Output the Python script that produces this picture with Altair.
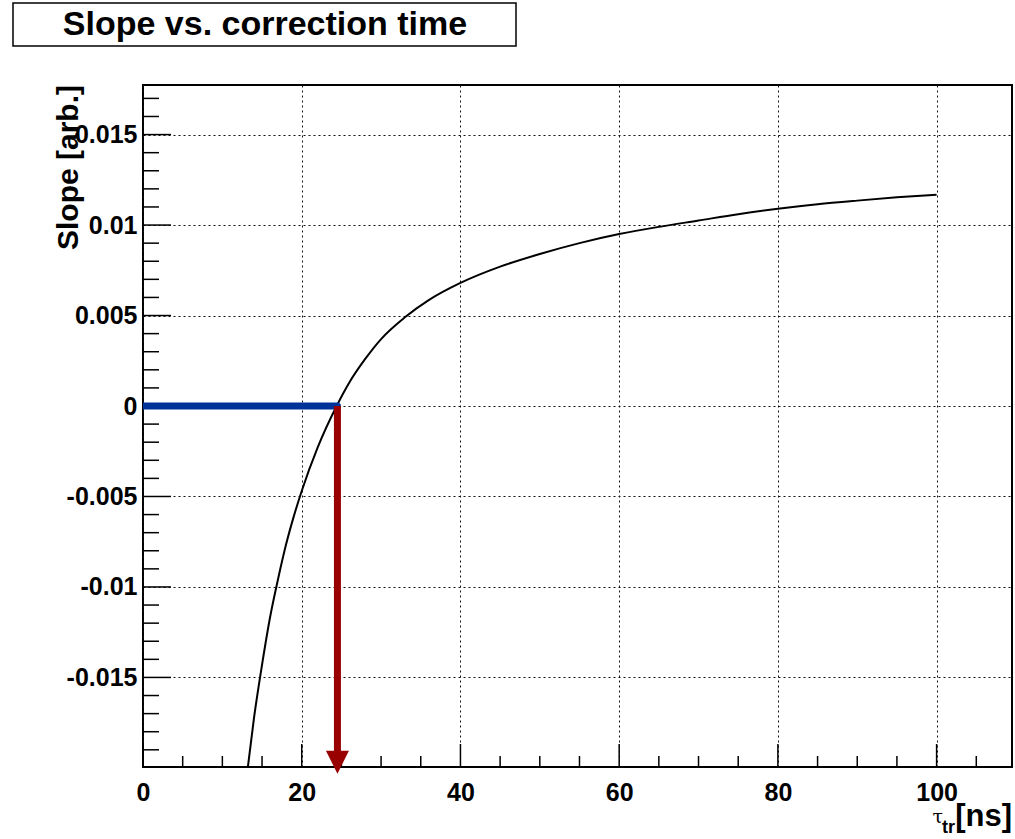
import altair as alt
import pandas as pd

# Slope of the corrected signal as a function of the correction time tau_tr
tau = [13.2, 14.0, 15.0, 16.0, 17.0, 18.0, 19.0, 20.0, 22.0, 24.4, 26.0, 28.0,
       30.0, 33.0, 36.0, 40.0, 45.0, 50.0, 55.0, 60.0, 65.0, 70.0, 75.0, 80.0,
       85.0, 90.0, 95.0, 100.0]
slope = [-0.0200, -0.0172, -0.0143, -0.0117, -0.0096, -0.0077, -0.0061, -0.0047,
         -0.0023, 0.0000, 0.0013, 0.0026, 0.0037, 0.0049, 0.00585, 0.0068, 0.0077,
         0.0084, 0.0090, 0.0095, 0.0099, 0.01025, 0.0106, 0.0109, 0.01115, 0.01135,
         0.01153, 0.01168]

# Zero crossing: horizontal marker along slope = 0 and arrow down to the time axis
zero_tau = [0.0, 24.5]
zero_slope = [0.0, 0.0]
arrow_tau = [24.5]
arrow_top = [0.0]
arrow_shaft_end = [-0.0191]
arrow_head = [-0.01969]

# Axis ticks
x_major = [0, 20, 40, 60, 80, 100]
x_minor = [5, 10, 15, 25, 30, 35, 45, 50, 55, 65, 70, 75, 85, 90, 95, 105]
y_major = [-0.015, -0.01, -0.005, 0.0, 0.005, 0.01, 0.015]
y_minor = [-0.019, -0.018, -0.017, -0.016, -0.014, -0.013, -0.012, -0.011,
           -0.009, -0.008, -0.007, -0.006, -0.004, -0.003, -0.002, -0.001,
           0.001, 0.002, 0.003, 0.004, 0.006, 0.007, 0.008, 0.009,
           0.011, 0.012, 0.013, 0.014, 0.016, 0.017]

x_domain = [0, 109.5]
y_domain = [-0.01995, 0.01774]

W, H = 869, 682          # plot frame size
L, T = 143, 85           # frame offset inside the page
FONT = "Liberation Sans"

xs = alt.Scale(domain=x_domain, nice=False, zero=False)
ys = alt.Scale(domain=y_domain, nice=False, zero=False)

curve_df = pd.DataFrame({"tau": tau, "slope": slope})
zero_df = pd.DataFrame({"tau": zero_tau, "slope": zero_slope})
arrow_df = pd.DataFrame({"tau": arrow_tau, "top": arrow_top,
                         "end": arrow_shaft_end, "head": arrow_head})
xmaj_df = pd.DataFrame({"tau": x_major})
xmin_df = pd.DataFrame({"tau": x_minor})
ymaj_df = pd.DataFrame({"slope": y_major})
ymin_df = pd.DataFrame({"slope": y_minor})
one = pd.DataFrame({"k": [0]})

x_axis = alt.Axis(values=x_major, grid=True, ticks=False, domain=False, title=None,
                  labelFont=FONT, labelFontWeight="bold", labelFontSize=25,
                  labelColor="black", labelPadding=13, labelFlush=False,
                  gridDash=[2, 3], gridColor="#111111", gridWidth=1, gridOpacity=1)
y_axis = alt.Axis(values=y_major, grid=True, ticks=False, domain=False, title=None,
                  labelFont=FONT, labelFontWeight="bold", labelFontSize=25,
                  labelColor="black", labelPadding=6, labelFlush=False,
                  labelExpr="datum.value == 0 ? '0' : replace(format(datum.value, '.3~f'), '\u2212', '-')",
                  gridDash=[2, 3], gridColor="#111111", gridWidth=1, gridOpacity=1)


def X(field):
    return alt.X(field, type="quantitative", scale=xs, axis=x_axis)


def Y(field):
    return alt.Y(field, type="quantitative", scale=ys, axis=y_axis)


curve = alt.Chart(curve_df).mark_line(color="black", strokeWidth=2, clip=True,
                                      interpolate="monotone").encode(
    x=X("tau"), y=Y("slope"))

zero_line = alt.Chart(zero_df).mark_line(color="#003399", strokeWidth=7,
                                         strokeCap="round", clip=True).encode(
    x=X("tau"), y=Y("slope"))

shaft = alt.Chart(arrow_df).mark_rule(color="#990000", strokeWidth=7).encode(
    x=X("tau"), y=Y("top"), y2="end:Q")

head = alt.Chart(arrow_df).mark_point(shape="M-1,-1L1,-1L0,1Z", size=529, filled=True,
                                      color="#990000", opacity=1).encode(
    x=X("tau"), y=Y("head"))

x_major_ticks = alt.Chart(xmaj_df).mark_rule(color="black", strokeWidth=1.5).encode(
    x=X("tau"), y=alt.value(H), y2=alt.value(H - 23))
x_minor_ticks = alt.Chart(xmin_df).mark_rule(color="black", strokeWidth=1.5).encode(
    x=X("tau"), y=alt.value(H), y2=alt.value(H - 11))
y_major_ticks = alt.Chart(ymaj_df).mark_rule(color="black", strokeWidth=1.5).encode(
    y=Y("slope"), x=alt.value(0), x2=alt.value(28))
y_minor_ticks = alt.Chart(ymin_df).mark_rule(color="black", strokeWidth=1.5).encode(
    y=Y("slope"), x=alt.value(0), x2=alt.value(16))

# Title box
title_box = alt.Chart(one).mark_rect(fill="white", stroke="black", strokeWidth=1.5).encode(
    x=alt.value(13 - L), x2=alt.value(516 - L), y=alt.value(3 - T), y2=alt.value(46 - T))
title_text = alt.Chart(one).mark_text(font=FONT, fontWeight="bold", fontSize=34,
                                      align="center", baseline="middle", color="black").encode(
    x=alt.value(265 - L), y=alt.value(25 - T), text=alt.value("Slope vs. correction time"))

# Axis titles
y_title = alt.Chart(one).mark_text(font=FONT, fontWeight="bold", fontSize=30, angle=270,
                                   align="right", baseline="middle", color="black").encode(
    x=alt.value(69 - L), y=alt.value(0), text=alt.value("Slope [arb.]"))
x_title_ns = alt.Chart(one).mark_text(font=FONT, fontWeight="bold", fontSize=31,
                                      align="right", baseline="alphabetic", color="black").encode(
    x=alt.value(1012 - L), y=alt.value(826 - T), text=alt.value("[ns]"))
x_title_sub = alt.Chart(one).mark_text(font=FONT, fontWeight="bold", fontSize=18,
                                       align="right", baseline="alphabetic", color="black").encode(
    x=alt.value(955 - L), y=alt.value(833 - T), text=alt.value("tr"))
x_title_tau = alt.Chart(one).mark_text(font="DejaVu Serif", fontSize=19,
                                       align="right", baseline="alphabetic", color="black").encode(
    x=alt.value(943 - L), y=alt.value(823 - T), text=alt.value("τ"))

chart = alt.layer(
    x_minor_ticks, x_major_ticks, y_minor_ticks, y_major_ticks,
    curve, zero_line, shaft, head,
    title_box, title_text, y_title, x_title_ns, x_title_sub, x_title_tau,
).properties(
    width=W, height=H,
    autosize=alt.AutoSizeParams(type="none"),
    padding={"left": L, "top": T, "right": 1015 - L - W, "bottom": 839 - T - H},
    background="white",
).configure(
    font=FONT,
).configure_view(
    stroke="black", strokeWidth=2,
)

chart.save("out.html", embed_options={"renderer": "svg", "actions": False})
